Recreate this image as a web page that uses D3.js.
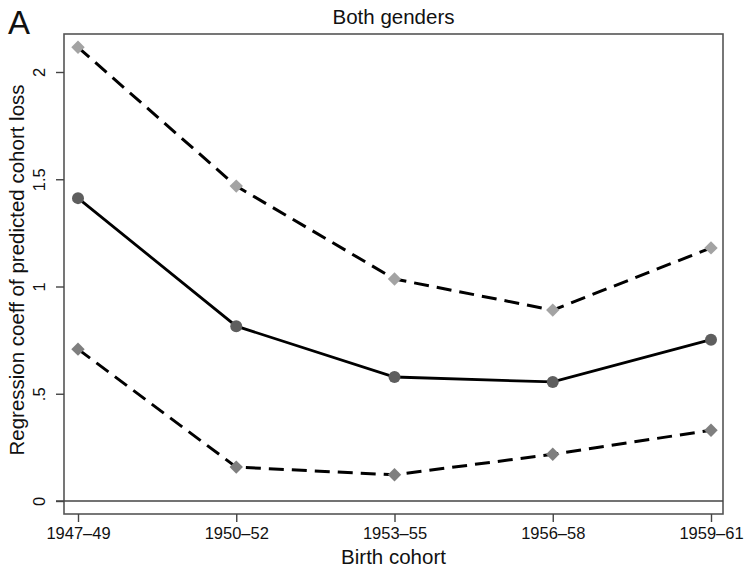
<!DOCTYPE html>
<html lang="en">
<head>
  <meta charset="UTF-8" />
  <title>Both genders</title>
  <script src="https://d3js.org/d3.v7.min.js"></script>
  <style>
    body {
      margin: 0;
      padding: 0;
      background-color: #fff;
    }
    svg text {
      font-family: "Liberation Sans", Arial, sans-serif;
      fill: #111;
    }
  </style>
</head>
<body>
  <svg width="744" height="571"></svg>

  <script>
    const cohorts = ["1947–49", "1950–52", "1953–55", "1956–58", "1959–61"];
    const upperCI = [2.115, 1.468, 1.035, 0.89, 1.18];
    const estimate = [1.412, 0.815, 0.578, 0.555, 0.752];
    const lowerCI = [0.708, 0.158, 0.122, 0.218, 0.33];
    const yTicks = [0, 0.5, 1, 1.5, 2];
    const yTickLabels = ["0", ".5", "1", "1.5", "2"];

    const svg = d3.select("svg");

    // plot box
    const box = { left: 64, top: 34, right: 723, bottom: 514 };

    const x = d3.scalePoint()
      .domain(cohorts)
      .range([78, 711]);

    const y = d3.scaleLinear()
      .domain([0, 2])
      .range([501, 72]);

    // frame
    svg.append("rect")
      .attr("x", box.left)
      .attr("y", box.top)
      .attr("width", box.right - box.left)
      .attr("height", box.bottom - box.top)
      .attr("fill", "none")
      .attr("stroke", "#555")
      .attr("stroke-width", 1.6);

    // y axis
    const yAxis = d3.axisLeft(y)
      .tickValues(yTicks)
      .tickSize(8)
      .tickFormat((d, i) => yTickLabels[i]);

    const gy = svg.append("g")
      .attr("transform", `translate(${box.left},0)`)
      .call(yAxis);
    gy.select(".domain").remove();
    gy.selectAll(".tick line").attr("stroke", "#444").attr("stroke-width", 1.4);
    gy.selectAll(".tick text")
      .attr("x", null).attr("dy", null)
      .attr("transform", "translate(-19,0) rotate(-90)")
      .attr("text-anchor", "middle")
      .attr("font-size", 16.5)
      .attr("fill", "#111");

    // x axis
    const xAxis = d3.axisBottom(x).tickSize(8).tickPadding(5);
    const gx = svg.append("g")
      .attr("transform", `translate(0,${box.bottom})`)
      .call(xAxis);
    gx.select(".domain").remove();
    gx.selectAll(".tick line").attr("stroke", "#444").attr("stroke-width", 1.4);
    gx.selectAll(".tick text")
      .attr("font-size", 16.5)
      .attr("fill", "#111");

    // zero line
    svg.append("line")
      .attr("x1", 56)
      .attr("x2", box.right)
      .attr("y1", y(0))
      .attr("y2", y(0))
      .attr("stroke", "#444")
      .attr("stroke-width", 1.6);

    const line = d3.line()
      .x((d, i) => x(cohorts[i]))
      .y(d => y(d));

    // CI lines
    [upperCI, lowerCI].forEach(s => {
      svg.append("path")
        .datum(s)
        .attr("d", line)
        .attr("fill", "none")
        .attr("stroke", "#000")
        .attr("stroke-width", 3)
        .attr("stroke-dasharray", "15,8");
    });

    svg.append("path")
      .datum(estimate)
      .attr("d", line)
      .attr("fill", "none")
      .attr("stroke", "#000")
      .attr("stroke-width", 2.8);

    const diamond = d3.symbol().type(d3.symbolSquare).size(90);

    svg.selectAll(".up")
      .data(upperCI)
      .enter().append("path")
      .attr("class", "up")
      .attr("d", diamond)
      .attr("transform", (d, i) => `translate(${x(cohorts[i])},${y(d)}) rotate(45)`)
      .attr("fill", "#a3a3a3");

    svg.selectAll(".lo")
      .data(lowerCI)
      .enter().append("path")
      .attr("class", "lo")
      .attr("d", diamond)
      .attr("transform", (d, i) => `translate(${x(cohorts[i])},${y(d)}) rotate(45)`)
      .attr("fill", "#7f7f7f");

    svg.selectAll(".est")
      .data(estimate)
      .enter().append("circle")
      .attr("class", "est")
      .attr("cx", (d, i) => x(cohorts[i]))
      .attr("cy", d => y(d))
      .attr("r", 6)
      .attr("fill", "#5e5e5e");

    // titles
    svg.append("text")
      .attr("x", (box.left + box.right) / 2)
      .attr("y", 24)
      .attr("text-anchor", "middle")
      .attr("font-size", 20.5)
      .text("Both genders");

    svg.append("text")
      .attr("x", 8)
      .attr("y", 34)
      .attr("font-size", 33)
      .text("A");

    svg.append("text")
      .attr("x", (box.left + box.right) / 2)
      .attr("y", 564)
      .attr("text-anchor", "middle")
      .attr("font-size", 20.5)
      .text("Birth cohort");

    svg.append("text")
      .attr("transform", "translate(24,270) rotate(-90)")
      .attr("text-anchor", "middle")
      .attr("font-size", 20.5)
      .text("Regression coeff of predicted cohort loss");
  </script>
</body>
</html>
